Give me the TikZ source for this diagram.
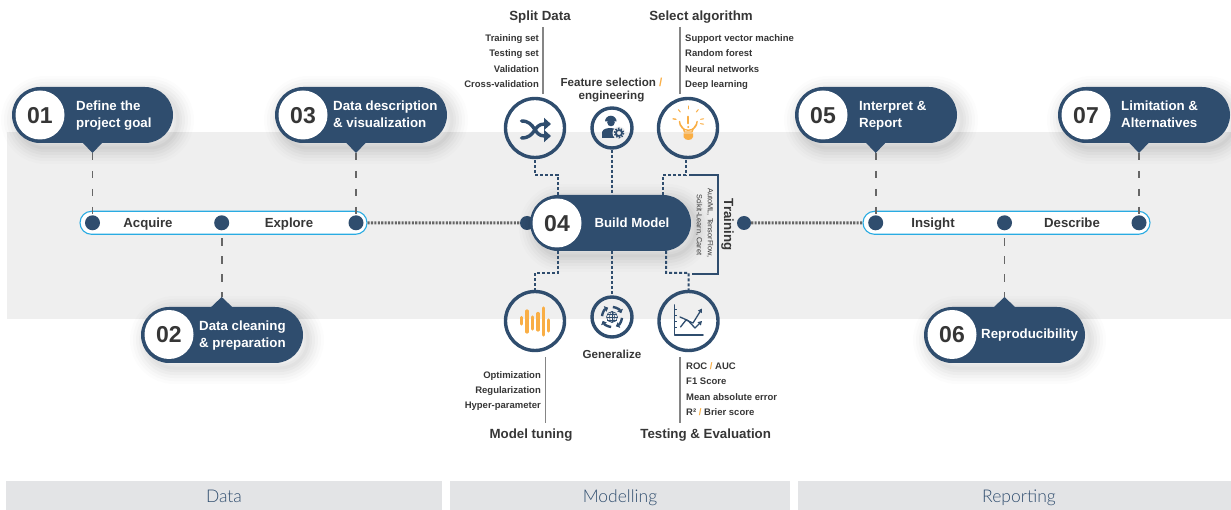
\documentclass[tikz,border=0pt]{standalone}
\usepackage{fontspec}
\setmainfont{Liberation Sans}
\newfontfamily\lightfont{Lato Light}
\usetikzlibrary{arrows.meta,shapes.misc,calc}
\definecolor{navy}{HTML}{2F4D6E}
\definecolor{bandgrey}{HTML}{EFEFEF}
\definecolor{footgrey}{HTML}{E3E4E6}
\definecolor{inkdark}{HTML}{363636}
\definecolor{linegrey}{HTML}{666666}
\definecolor{capsuleblue}{HTML}{29ABE2}
\definecolor{orangeicon}{HTML}{F9AE45}
\tikzset{
    softshadow/.style={
        preaction={draw=black,opacity=.012,line width=32pt,transform canvas={xshift=5pt,yshift=-5pt}},
        preaction={draw=black,opacity=.015,line width=26pt,transform canvas={xshift=5pt,yshift=-5pt}},
        preaction={draw=black,opacity=.02,line width=20pt,transform canvas={xshift=5pt,yshift=-5pt}},
        preaction={draw=black,opacity=.025,line width=14pt,transform canvas={xshift=5pt,yshift=-5pt}},
        preaction={draw=black,opacity=.025,line width=8pt,transform canvas={xshift=5pt,yshift=-5pt}},
        preaction={draw=black,opacity=.025,line width=3pt,transform canvas={xshift=5pt,yshift=-5pt}}},
    pill/.style={rounded rectangle,fill=navy,inner sep=0pt,minimum height=56pt,softshadow},
    numdisc/.style={circle,fill=white,inner sep=0pt,minimum size=49pt,text=inkdark,text height=16.5pt,text depth=0pt,font=\bfseries\fontsize{23}{23}\selectfont},
    pilltxt/.style={anchor=west,align=left,inner sep=0pt,yshift=-1.5pt,text=white,text depth=3pt,font=\bfseries\fontsize{13.3}{17}\selectfont},
    capsule/.style={rounded rectangle,draw=capsuleblue,fill=white,line width=1.1pt,inner sep=0pt,minimum height=23pt},
    capsuletxt/.style={inner sep=0pt,yshift=-1.5pt,text=inkdark,text height=10pt,text depth=3pt,font=\bfseries\fontsize{13.2}{15}\selectfont},
    dot/.style={circle,fill=navy,inner sep=0pt,minimum size=15pt},
    stagedash/.style={draw=linegrey,line width=1.9pt,dash pattern=on 7.5pt off 10.5pt},
    stagedots/.style={draw=linegrey,line width=3pt,dash pattern=on 2.1pt off 1.3pt},
    linkdash/.style={draw=navy,line width=2pt,dash pattern=on 3pt off 2pt},
    ringbig/.style={circle,draw=navy,line width=3.4pt,inner sep=0pt,minimum size=59pt},
    ringsmall/.style={circle,draw=navy,line width=3.4pt,inner sep=0pt,minimum size=40pt},
    title/.style={inner sep=0pt,align=center,text=inkdark,font=\bfseries\fontsize{13.3}{13.5}\selectfont},
    smalltitle/.style={title,font=\bfseries\fontsize{11.6}{13}\selectfont},
    itemtxt/.style={inner sep=0pt,yshift=-1pt,text=inkdark,text height=7pt,text depth=2pt,font=\bfseries\fontsize{9.5}{11}\selectfont},
    listrule/.style={draw=linegrey!80,line width=1.3pt},
    foot/.style={rectangle,fill=footgrey,inner sep=0pt,minimum height=29pt,text=navy,text height=13pt,text depth=0pt,font=\lightfont\fontsize{17.5}{19}\selectfont},
    iconnavy/.style={draw=navy,line cap=round,line join=round},
    iconorange/.style={draw=orangeicon,line cap=round,line join=round}
}
\begin{document}
\begin{tikzpicture}[x=1pt,y=-1pt]
    \useasboundingbox (0,0) rectangle (1231,510);

    % Band and footer
    \fill[bandgrey] (7,132) rectangle (1231,319);
    \node[foot,minimum width=436pt] (data) at (224,495.5) {Data};
    \node[foot,minimum width=340pt] (modelling) at (620,495.5) {Modelling};
    \node[foot,minimum width=434pt] (reporting) at (1014.5,495.5) {};
    \node[inner sep=0pt,text=navy,text height=13pt,text depth=0pt,font=\lightfont\fontsize{17.5}{19}\selectfont] (reportingtxt) at (1019,495.5) {Reporting};

    % Stage capsules
    \node[capsule,minimum width=287pt] (acquire) at (223.5,222.8) {};
    \node[capsule,minimum width=287pt] (insight) at (1006.5,222.8) {};
    \foreach \n/\x in {d1/92.5,d2/221.7,d3/356,d5/875.7,d6/1004.5,d7/1139}
        \node[dot] (\n) at (\x,222.8) {};
    \node[capsuletxt] (acquiretxt) at (148,223) {Acquire};
    \node[capsuletxt] (exploretxt) at (289,223) {Explore};
    \node[capsuletxt] (insighttxt) at (933,223) {Insight};
    \node[capsuletxt] (describetxt) at (1072,223) {Describe};

    % Numbered pills, upper row then lower row
    \foreach \n/\cx/\w/\cc/\tx/\lab in {
        01/92.5/161/40/76/{Define the\\project goal},
        03/361/172/303/333/{Data description\\\& visualization},
        05/876/162/823/859/{Interpret \&\\Report},
        07/1144/172/1086/1121/{Limitation \&\\Alternatives}}{
        \node[pill,minimum width=\w pt] (pill\n) at (\cx,115) {};
        \node[numdisc] (num\n) at (\cc,115) {\n};
        \node[pilltxt] (txt\n) at (\tx,114.5) {\lab};
    }
    \foreach \n/\cx/\w/\cc/\tx/\lab in {
        02/222/162/169/199/{Data cleaning\\\& preparation},
        06/1004.5/161/952/981/{Reproducibility}}{
        \node[pill,minimum width=\w pt] (pill\n) at (\cx,335) {};
        \node[numdisc] (num\n) at (\cc,334.5) {\n};
        \node[pilltxt] (txt\n) at (\tx,334) {\lab};
    }

    % Pointers and their dashed links
    \foreach \n/\x/\d in {01/92.5/d1,03/356/d3,05/875.7/d5,07/1139/d7}{
        \fill[navy] (\x-10,142.5) -- (\x,153) -- (\x+10,142.5) -- cycle;
        \coordinate (tip\n) at (\x,153);
        \draw[stagedash] (tip\n) -- (\d.north);
    }
    \foreach \n/\x/\d in {02/221.7/d2,06/1004.5/d6}{
        \fill[navy] (\x-11,307.5) -- (\x,297) -- (\x+11,307.5) -- cycle;
        \coordinate (tip\n) at (\x,297);
        \draw[stagedash] (\d.south) ++(0,8) -- (tip\n);
    }

    % Centre pill
    \node[dot,minimum size=14pt] (leftdot) at (527,223) {};
    \node[dot,minimum size=14pt] (rightdot) at (744,223) {};
    \node[pill,minimum width=161pt] (pill04) at (610.5,223) {};
    \node[numdisc] (num04) at (557,223) {04};
    \node[capsuletxt,text=white] (txt04) at (632,223) {Build Model};
    \draw[stagedots] (acquire.east) -- (leftdot);
    \draw[stagedots] (rightdot) -- (insight.west);

    % Rings
    \node[ringbig] (split) at (535,128) {};
    \node[ringsmall] (feature) at (612,128) {};
    \node[ringbig] (select) at (688,128) {};
    \node[ringbig] (tuning) at (535,321) {};
    \node[ringsmall] (general) at (612,317) {};
    \node[ringbig] (testing) at (688.5,321) {};

    % Links from rings to the centre pill
    \draw[linkdash] (split.south) ++(0,1) -- (535,175) -- (557.7,175) -- (557.7,195);
    \draw[linkdash] (feature.south) -- (612,195);
    \draw[linkdash] (686,160) -- (686,175) -- (663,175) -- (663,195);
    \draw[linkdash] (557.7,251) -- (557.7,273) -- (535,273) -- (tuning.north);
    \draw[linkdash] (612,251) -- (general.north);
    \draw[linkdash] (666,251) -- (666,273) -- (688.7,273) -- (testing.north);

    % Training bracket
    \coordinate (brtop) at (689,175);
    \coordinate (brbot) at (692,274);
    \draw[navy,line width=2.4pt] (brtop) -- (718,175) -- (718,274) -- (brbot);
    \node[title,rotate=-90] (training) at (727.5,224.5) {Training};
    \node[inner sep=0pt,rotate=-90,text=inkdark,font=\fontsize{7.4}{9}\selectfont] (tools1) at (710,223) {AutoML, TensorFlow,};
    \node[inner sep=0pt,rotate=-90,text=inkdark,font=\fontsize{7.4}{9}\selectfont] (tools2) at (699,225) {Scikit-Learn, Caret};

    % Titles
    \node[title] (splittitle) at (540,17) {Split Data};
    \node[title] (selecttitle) at (701,17) {Select algorithm};
    \node[smalltitle] (featuretitle) at (611.5,90) {Feature selection \textcolor{orangeicon}{/}\\engineering};
    \node[smalltitle] (generaltitle) at (612,354.5) {Generalize};
    \node[title] (tuningtitle) at (531,435) {Model tuning};
    \node[title] (testingtitle) at (705.7,435) {Testing \& Evaluation};

    % Lists
    \draw[listrule] (543,27) -- (543,94);
    \draw[listrule] (680,27) -- (680,94);
    \draw[listrule] (545.7,357) -- (545.7,423);
    \draw[listrule] (680,357) -- (680,423);
    \foreach \t [count=\i] in {Training set,Testing set,Validation,Cross-validation}
        \node[itemtxt,anchor=east] (splitlist\i) at (539,{38+15.3*(\i-1)}) {\t};
    \foreach \t [count=\i] in {Support vector machine,Random forest,Neural networks,Deep learning}
        \node[itemtxt,anchor=west] (selectlist\i) at (685,{38+15.3*(\i-1)}) {\t};
    \foreach \t [count=\i] in {Optimization,Regularization,Hyper-parameter}
        \node[itemtxt,anchor=east] (tuninglist\i) at (541,{374.5+15.3*(\i-1)}) {\t};
    \foreach \t [count=\i] in {ROC \textcolor{orangeicon}{/} AUC,F1 Score,Mean absolute error,R² \textcolor{orangeicon}{/} Brier score}
        \node[itemtxt,anchor=west] (testinglist\i) at (686,{366+15.3*(\i-1)}) {\t};

    % Shuffle icon
    \draw[iconnavy,line width=3.4pt,-{Triangle[length=7pt,width=12pt]}] (521.5,121) .. controls (536,121) and (533,136) .. (551,136);
    \draw[iconnavy,line width=3.4pt,-{Triangle[length=7pt,width=12pt]}] (521.5,138) .. controls (536,138) and (533,124) .. (551,124);

    % Worker icon
    \fill[navy] (611,122.5) circle (3.8);
    \fill[navy] (605,121.5) arc (180:360:5.8 and 5.8) -- cycle;
    \fill[navy] (602,138) -- (602,132) .. controls (603,128.5) and (608,128) .. (611,128) .. controls (614,128) and (616,129) .. (617,131) -- (617,138) -- cycle;
    \fill[bandgrey] (619,133) circle (6.5);
    \draw[navy,line width=1.7pt] (619,133) circle (3);
    \draw[navy,line width=1.8pt,dash pattern=on 1.5pt off 1.3pt] (619,133) circle (4.5);

    % Bulb icon
    \draw[iconorange,line width=1.4pt] (684.5,132) .. controls (684,127.5) and (679.5,126) .. (679.5,121.5) arc (180:0:8.8 and 8.8) .. controls (697.1,126) and (692.5,127.5) .. (692,132) -- cycle;
    \fill[orangeicon] (683.5,133.5) -- (693,133.5) -- (693,137) .. controls (692,141) and (685,141) .. (683.5,137) -- cycle;
    \draw[iconorange,line width=1.7pt] (688.3,116.5) -- (688.3,123.5);
    \fill[orangeicon] (688.3,127) circle (1.1);
    \foreach \a in {-10,-50,-90,-130,-170,10,190}
        \draw[iconorange,line width=1pt] ($(688.3,121.5)+(\a:12.5)$) -- ($(688.3,121.5)+(\a:15.5)$);

    % Tuning icon
    \foreach \x/\ya/\yb in {521.7/317.5/324,527/311/332,532.7/317/329,538/313.5/330,543.5/308/335,548.7/320/331}
        \draw[iconorange,line width=3.2pt] (\x,\ya) -- (\x,\yb);

    % Globe icon
    \draw[navy,line width=.6pt] (612,317) circle (5.5);
    \draw[navy,line width=.6pt] (612,317) ellipse (2.5 and 5.5);
    \draw[navy,line width=.6pt] (606.5,317) -- (617.5,317) (607.3,314) -- (616.7,314) (607.3,320) -- (616.7,320) (612,311.5) -- (612,322.5);
    \foreach \a in {0,90,180,270}
        \draw[navy,line width=2.4pt,-{Triangle[length=3.5pt,width=6pt]}] ($(612,317)+(\a+5:10)$) arc (\a+5:\a+68:10 and 10);

    % Chart icon
    \draw[iconnavy,line width=1.6pt] (674.3,305) -- (674.3,335) -- (703,335);
    \foreach \y in {310,316,322,328}
        \draw[navy,line width=1pt] (674.3,\y) -- (677,\y);
    \draw[iconnavy,line width=1.3pt,-{Triangle[length=4pt,width=4.5pt]}] (680.5,327) -- (686,320) -- (693,323) -- (702,308.5);
    \draw[iconnavy,line width=1.3pt,-{Triangle[length=4pt,width=4.5pt]}] (680,317) -- (688,320.5) -- (695,328) -- (702,321);
\end{tikzpicture}
\end{document}
